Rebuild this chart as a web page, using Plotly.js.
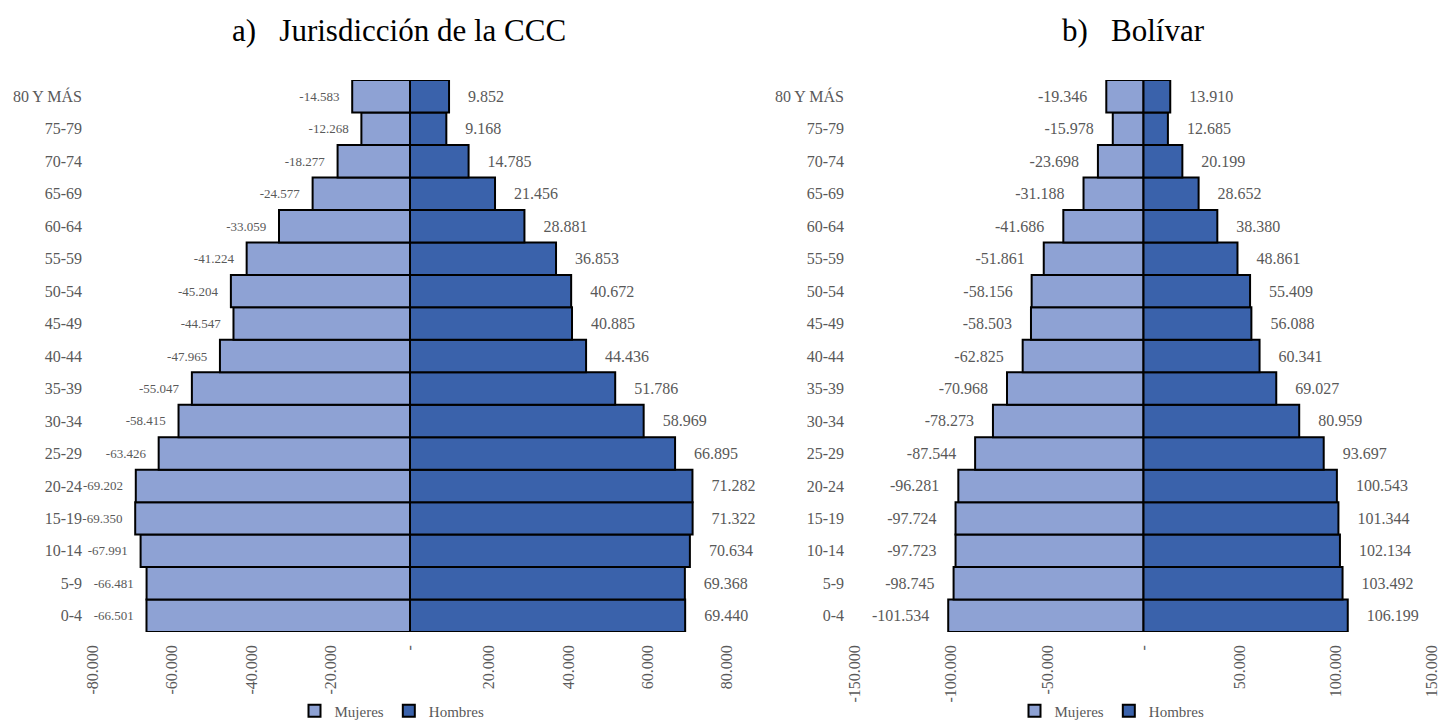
<!DOCTYPE html>
<html>
<head>
<meta charset="utf-8">
<script src="https://cdn.plot.ly/plotly-3.0.1.min.js"></script>
<style>
html,body{margin:0;padding:0;background:#fff;}
#chart{width:1440px;height:728px;}
</style>
</head>
<body>
<div id="chart"></div>
<script>
// ---- Data ----
const ageGroups = ['0-4','5-9','10-14','15-19','20-24','25-29','30-34','35-39','40-44','45-49','50-54','55-59','60-64','65-69','70-74','75-79','80 Y MÁS'];

const cccMujeres = [-66501,-66481,-67991,-69350,-69202,-63426,-58415,-55047,-47965,-44547,-45204,-41224,-33059,-24577,-18277,-12268,-14583];
const cccHombres = [69440,69368,70634,71322,71282,66895,58969,51786,44436,40885,40672,36853,28881,21456,14785,9168,9852];

const bolMujeres = [-101534,-98745,-97723,-97724,-96281,-87544,-78273,-70968,-62825,-58503,-58156,-51861,-41686,-31188,-23698,-15978,-19346];
const bolHombres = [106199,103492,102134,101344,100543,93697,80959,69027,60341,56088,55409,48861,38380,28652,20199,12685,13910];

const ticksCCC = [-80000,-60000,-40000,-20000,0,20000,40000,60000,80000];
const ticksBol = [-150000,-100000,-50000,0,50000,100000,150000];

const subtitleA = 'a)\u00a0\u00a0\u00a0Jurisdicción de la CCC';
const subtitleB = 'b)\u00a0\u00a0\u00a0Bolívar';

// ---- Helpers ----
function fmt(v){
  const s = Math.abs(Math.round(v)).toString().replace(/\B(?=(\d{3})+(?!\d))/g,'.');
  return (v<0?'-':'')+s;
}
function tickText(v){ return v===0 ? '-' : fmt(v); }
function pad(n){ return '\u00a0'.repeat(n); }

const FONT = 'Liberation Serif, Times New Roman, serif';
const GRAY = '#595959';
const C_MUJ = '#8EA2D4';
const C_HOM = '#3A62AB';

function barTrace(x, name, color, xa, ya, leg, neg, fsize, npad){
  return {
    type:'bar', orientation:'h', x:x, y:ageGroups, name:name,
    xaxis:xa, yaxis:ya, legend:leg, showlegend:true,
    marker:{color:color, line:{color:'#000000', width:2}},
    text: x.map(v => neg ? fmt(v)+pad(npad) : pad(npad)+fmt(v)),
    textposition:'outside', cliponaxis:false,
    textfont:{family:FONT, size:fsize, color:GRAY},
    hoverinfo:'x+y'
  };
}

const data = [
  barTrace(cccMujeres,'Mujeres',C_MUJ,'x','y','legend',true,13,3),
  barTrace(cccHombres,'Hombres',C_HOM,'x','y','legend',false,16,4),
  barTrace(bolMujeres,'Mujeres',C_MUJ,'x2','y2','legend2',true,16,4),
  barTrace(bolHombres,'Hombres',C_HOM,'x2','y2','legend2',false,16,4)
];

const W = 1440, H = 728;
const yDom = [(H-639)/H, (H-81)/H];

function xAxis(dom, ticks, rng){
  return {
    domain:dom, range:rng, fixedrange:true,
    showgrid:false, showline:false, ticks:'',
    zeroline:true, zerolinecolor:'#A6A6A6', zerolinewidth:2,
    layer:'above traces',
    tickmode:'array', tickvals:ticks, ticktext:ticks.map(tickText),
    tickangle:-90, ticklabelstandoff:9, ticklabeloverflow:'allow',
    tickfont:{family:FONT, size:16, color:GRAY}
  };
}
function yAxis(dom, anchor){
  return {
    domain:dom, anchor:anchor, type:'category', fixedrange:true,
    showgrid:false, showline:false, ticks:'', ticklabelstandoff:10,
    tickfont:{family:FONT, size:16, color:GRAY}
  };
}

const layout = {
  width:W, height:H,
  margin:{l:0,r:0,t:0,b:0},
  paper_bgcolor:'#ffffff', plot_bgcolor:'#ffffff',
  separators:',.',
  barmode:'relative', bargap:0,
  font:{family:FONT, color:GRAY},
  xaxis: xAxis([93/W, 727/W], ticksCCC, [-80000,80000]),
  yaxis: yAxis(yDom,'x'),
  xaxis2: xAxis([855/W, 1432/W], ticksBol, [-150000,150000]),
  yaxis2: yAxis(yDom,'x2'),
  legend:{orientation:'h', x:392/W, xanchor:'center', y:(H-719)/H, yanchor:'middle',
          font:{family:FONT, size:15, color:GRAY}, itemwidth:30, tracegroupgap:0, bgcolor:'rgba(0,0,0,0)'},
  legend2:{orientation:'h', x:1112/W, xanchor:'center', y:(H-719)/H, yanchor:'middle',
          font:{family:FONT, size:15, color:GRAY}, itemwidth:30, tracegroupgap:0, bgcolor:'rgba(0,0,0,0)'},
  annotations:[
    {text:subtitleA, xref:'paper', yref:'paper', x:399/W, y:(H-31)/H, xanchor:'center', yanchor:'middle',
     showarrow:false, font:{family:FONT, size:31, color:'#000000'}},
    {text:subtitleB, xref:'paper', yref:'paper', x:1133/W, y:(H-31)/H, xanchor:'center', yanchor:'middle',
     showarrow:false, font:{family:FONT, size:31, color:'#000000'}}
  ]
};

Plotly.newPlot('chart', data, layout, {displayModeBar:false, staticPlot:true});
</script>
</body>
</html>
